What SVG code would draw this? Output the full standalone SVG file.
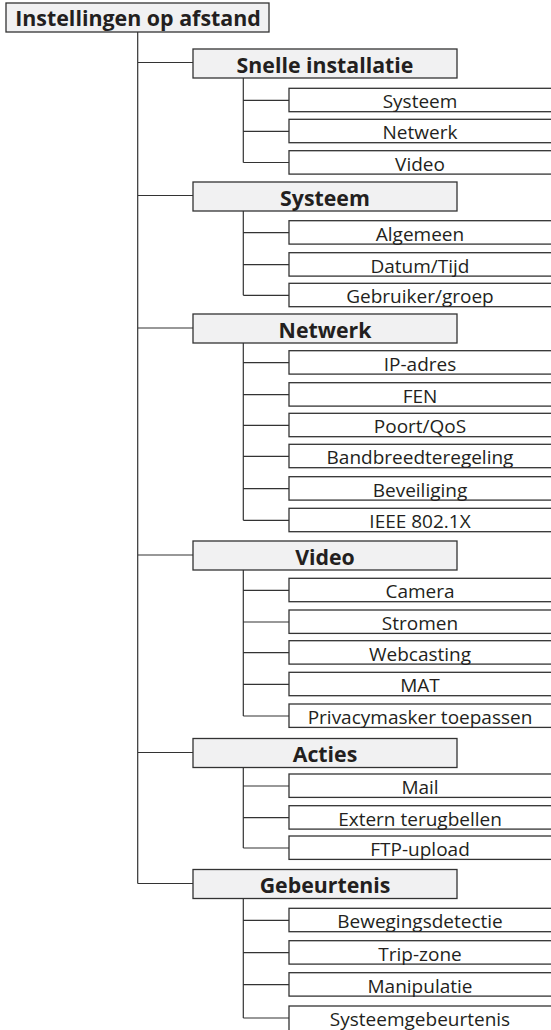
<svg xmlns="http://www.w3.org/2000/svg" width="551" height="1030" viewBox="0 0 551 1030">
<style>
.bg{fill:#ffffff}
.root,.l1{fill:#f1f1f2;stroke:#333;stroke-width:1.3}
.l2{fill:#ffffff;stroke:#333;stroke-width:1.3}
.t0{font-family:"Open Sans","Liberation Sans",sans-serif;font-weight:bold;font-size:21.4px;fill:#231f20;text-anchor:middle}
.t1{font-family:"Open Sans","Liberation Sans",sans-serif;font-weight:bold;font-size:21.3px;fill:#231f20;text-anchor:middle}
.t2{font-family:"Open Sans","Liberation Sans",sans-serif;font-size:19px;fill:#231f20;text-anchor:middle}
.c{fill:none;stroke:#333;stroke-width:1.2}
</style>
<rect class="bg" x="0" y="0" width="551" height="1030"/>
<g id="connectors">
<path class="c" d="M137.7 32 V883.5 M137.7 62.5 H193 M137.7 195.5 H193 M137.7 328 H193 M137.7 555 H193 M137.7 752.5 H193 M137.7 883.5 H193"/>
<path class="c" d="M243.3 78 V162.5 M243.3 100.3 H289 M243.3 131.3 H289 M243.3 162.5 H289"/>
<path class="c" d="M243.3 211 V295.3 M243.3 232.7 H289 M243.3 264.7 H289 M243.3 295.3 H289"/>
<path class="c" d="M243.3 343 V520.3 M243.3 362.7 H289 M243.3 394.7 H289 M243.3 425.3 H289 M243.3 456.3 H289 M243.3 488.7 H289 M243.3 520.3 H289"/>
<path class="c" d="M243.3 570 V716 M243.3 590.3 H289 M243.3 622 H289 M243.3 652.7 H289 M243.3 684.3 H289 M243.3 716 H289"/>
<path class="c" d="M243.3 767.5 V848 M243.3 786 H289 M243.3 817.7 H289 M243.3 848 H289"/>
<path class="c" d="M243.3 899 V1018 M243.3 920.3 H289 M243.3 952.7 H289 M243.3 984.7 H289 M243.3 1018 H289"/>
</g>
<g id="root"><rect class="root" x="6" y="3" width="263" height="29"/><text class="t0" x="138" y="26">Instellingen op afstand</text></g>

<g id="snelle"><rect class="l1" x="193" y="49" width="264" height="29"/><text class="t1" x="325" y="73">Snelle installatie</text></g>
<g id="snelle-systeem"><rect class="l2" x="289" y="88.3" width="266" height="23.4"/><text class="t2" x="420" y="108.3">Systeem</text></g>
<g id="snelle-netwerk"><rect class="l2" x="289" y="119.3" width="266" height="23.4"/><text class="t2" x="420" y="139.3">Netwerk</text></g>
<g id="snelle-video"><rect class="l2" x="289" y="150.7" width="266" height="23.4"/><text class="t2" x="420" y="170.7">Video</text></g>

<g id="systeem"><rect class="l1" x="193" y="182" width="264" height="29"/><text class="t1" x="325" y="205.5">Systeem</text></g>
<g id="systeem-algemeen"><rect class="l2" x="289" y="220.7" width="266" height="23.4"/><text class="t2" x="420" y="240.7">Algemeen</text></g>
<g id="systeem-datum"><rect class="l2" x="289" y="252.7" width="266" height="23.4"/><text class="t2" x="420" y="272.7">Datum/Tijd</text></g>
<g id="systeem-gebruiker"><rect class="l2" x="289" y="283.3" width="266" height="23.4"/><text class="t2" x="420" y="303.3">Gebruiker/groep</text></g>

<g id="netwerk"><rect class="l1" x="193" y="314" width="264" height="29"/><text class="t1" x="325" y="337.5">Netwerk</text></g>
<g id="netwerk-ip"><rect class="l2" x="289" y="350.7" width="266" height="23.4"/><text class="t2" x="420" y="370.7">IP-adres</text></g>
<g id="netwerk-fen"><rect class="l2" x="289" y="382.7" width="266" height="23.4"/><text class="t2" x="420" y="402.7">FEN</text></g>
<g id="netwerk-poort"><rect class="l2" x="289" y="413.3" width="266" height="23.4"/><text class="t2" x="420" y="433.3">Poort/QoS</text></g>
<g id="netwerk-bandbreedte"><rect class="l2" x="289" y="444.3" width="266" height="23.4"/><text class="t2" x="420" y="464.3">Bandbreedteregeling</text></g>
<g id="netwerk-beveiliging"><rect class="l2" x="289" y="476.7" width="266" height="23.4"/><text class="t2" x="420" y="496.7">Beveiliging</text></g>
<g id="netwerk-ieee"><rect class="l2" x="289" y="508.3" width="266" height="23.4"/><text class="t2" x="420" y="528.3">IEEE 802.1X</text></g>

<g id="video"><rect class="l1" x="193" y="541" width="264" height="29"/><text class="t1" x="325" y="564.5">Video</text></g>
<g id="video-camera"><rect class="l2" x="289" y="578.3" width="266" height="23.4"/><text class="t2" x="420" y="598.3">Camera</text></g>
<g id="video-stromen"><rect class="l2" x="289" y="610" width="266" height="23.4"/><text class="t2" x="420" y="630">Stromen</text></g>
<g id="video-webcasting"><rect class="l2" x="289" y="640.7" width="266" height="23.4"/><text class="t2" x="420" y="660.7">Webcasting</text></g>
<g id="video-mat"><rect class="l2" x="289" y="672.3" width="266" height="23.4"/><text class="t2" x="420" y="692.3">MAT</text></g>
<g id="video-privacy"><rect class="l2" x="289" y="704" width="266" height="23.4"/><text class="t2" x="420" y="724">Privacymasker toepassen</text></g>

<g id="acties"><rect class="l1" x="193" y="738.5" width="264" height="29"/><text class="t1" x="325" y="762">Acties</text></g>
<g id="acties-mail"><rect class="l2" x="289" y="774" width="266" height="23.4"/><text class="t2" x="420" y="794">Mail</text></g>
<g id="acties-extern"><rect class="l2" x="289" y="805.7" width="266" height="23.4"/><text class="t2" x="420" y="825.7">Extern terugbellen</text></g>
<g id="acties-ftp"><rect class="l2" x="289" y="836" width="266" height="23.4"/><text class="t2" x="420" y="856">FTP-upload</text></g>

<g id="gebeurtenis"><rect class="l1" x="193" y="869.5" width="264" height="29"/><text class="t1" x="325" y="893">Gebeurtenis</text></g>
<g id="gebeurtenis-beweging"><rect class="l2" x="289" y="908.3" width="266" height="23.4"/><text class="t2" x="420" y="928.3">Bewegingsdetectie</text></g>
<g id="gebeurtenis-trip"><rect class="l2" x="289" y="940.7" width="266" height="23.4"/><text class="t2" x="420" y="960.7">Trip-zone</text></g>
<g id="gebeurtenis-manipulatie"><rect class="l2" x="289" y="972.7" width="266" height="23.4"/><text class="t2" x="420" y="992.7">Manipulatie</text></g>
<g id="gebeurtenis-systeem"><rect class="l2" x="289" y="1006" width="266" height="28"/><text class="t2" x="420" y="1026">Systeemgebeurtenis</text></g>
</svg>
